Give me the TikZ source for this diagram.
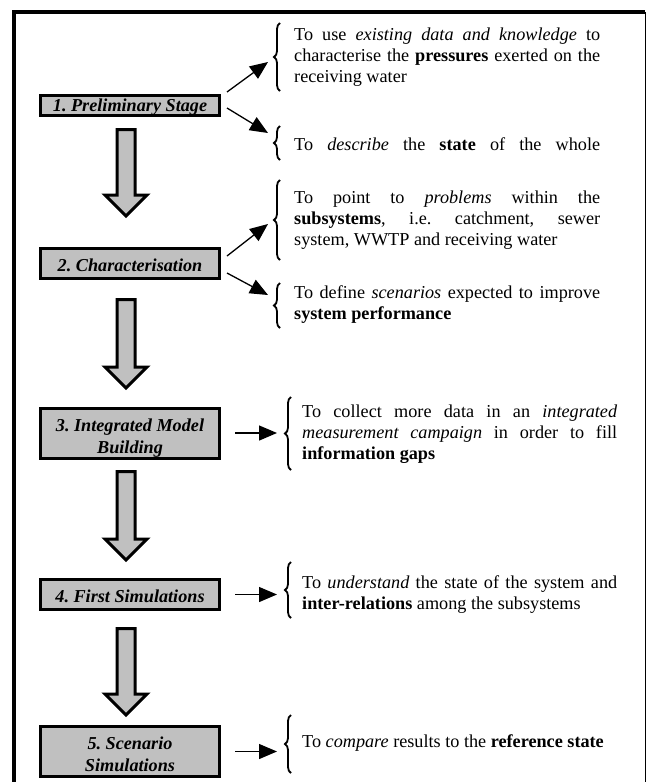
\documentclass[tikz,border=0pt]{standalone}
\usepackage{fontspec}
\setmainfont{Liberation Serif}
\usepackage{xcolor}
\usetikzlibrary{arrows.meta, positioning, decorations.pathreplacing}
\definecolor{stageGray}{RGB}{192,192,192}
\tikzstyle{stage} = [draw, line width=3pt, fill=stageGray, rectangle, minimum width=179pt, inner sep=0pt]
\tikzstyle{stagetext} = [inner sep=0pt, align=center, font=\fontsize{18.2pt}{22pt}\selectfont\bfseries\itshape]
\tikzstyle{goal} = [anchor=west, inner sep=0pt, align=justify, font=\fontsize{18.2pt}{21pt}\selectfont]
\tikzstyle{brace} = [decorate, decoration={brace, amplitude=6pt}, line width=1.8pt]
\tikzstyle{bigarrow} = [draw, line width=3pt, fill=stageGray, miter limit=10]
\tikzstyle{link} = [->, line width=1.3pt]
\tolerance=10000
\hyphenpenalty=10000
\frenchspacing

\begin{document}
\begin{tikzpicture}[x=1pt, y=-1pt, >={Triangle[length=18pt,width=15pt]}, node distance=158pt]
        \useasboundingbox (0,0) rectangle (653,782);
        % outer frame
        \draw [line width=3.5pt] (14,782) -- (14,12) -- (645,12);
        \draw [line width=1pt] (645,12) -- (645,782);

        % the five stages
        \node [stage, minimum height=20pt] (prelim) at (130,105.5) {};
        \node [stage, minimum height=30pt, below of=prelim] (charac) {};
        \node [stage, minimum height=50pt, below of=charac, node distance=169.5pt] (build) {};
        \node [stage, minimum height=30pt, below of=build, node distance=161.5pt] (firstSim) {};
        \node [stage, minimum height=50pt, below of=firstSim, node distance=157pt] (scenSim) {};

        % stage names, cut off by the lower edge of their box as in the original
        \foreach \name/\lbl/\ypos in {prelim/{1. Preliminary Stage}/107.25, charac/{2. Characterisation}/265.5, build/{3. Integrated Model\\Building}/438, firstSim/{4. First Simulations}/596.5, scenSim/{5. Scenario\\Simulations}/754}
        {
            \begin{scope}
                \clip (\name.south west) rectangle (\name.north east);
                \node [stagetext] (\name Text) at (130,\ypos) {\lbl};
            \end{scope}
        }

        % block arrows between the stages
        \foreach \ya/\yb in {129.5/216, 299.5/388, 471.5/560, 628.5/715}
            \draw [bigarrow] (117,\ya) -- (135,\ya) -- (135,\yb-21) -- (147,\yb-21) -- (126,\yb) -- (105,\yb-21) -- (117,\yb-21) -- cycle;

        % aims of each stage
        \node [goal, text width=306pt] (pressures) at (294,57) {To use \textit{existing data and knowledge} to\linebreak characterise the \textbf{pressures} exerted on the\linebreak receiving water};
        \node [goal, text width=306pt] (stateWhole) at (294,144) {\makebox[\linewidth][s]{To \textit{describe} the \textbf{state} of the whole}};
        \node [goal, text width=306pt] (problems) at (294,220) {To point to \textit{problems} within the\linebreak \textbf{subsystems}, i.e. catchment, sewer\linebreak system, WWTP and receiving water};
        \node [goal, text width=306pt] (scenarios) at (294,305) {To define \textit{scenarios} expected to improve\linebreak \textbf{system performance}};
        \node [goal, text width=315pt] (campaign) at (302,434) {To collect more data in an \textit{integrated}\linebreak \textit{measurement campaign} in order to fill\linebreak \textbf{information gaps}};
        \node [goal, text width=315pt] (interRel) at (302,595) {To \textit{understand} the state of the system and\linebreak \textbf{inter-relations} among the subsystems};
        \node [goal, text width=315pt] (compare) at (302,743) {To \textit{compare} results to the \textbf{reference state}};

        \foreach \x/\ya/\yb in {280/23/91, 280/126/160, 280/180/260, 280/283/328, 291/397/470, 291/562/618, 291/715/773}
            \draw [brace] (\x,\yb) -- (\x,\ya);

        \coordinate (tipPressures) at (268,62);
        \coordinate (tipState) at (268,133);
        \coordinate (tipProblems) at (268,224);
        \coordinate (tipScenarios) at (268,295);
        \coordinate (tipCampaign) at (277,433);
        \coordinate (tipInterRel) at (277,594.5);
        \coordinate (tipCompare) at (277,751.5);

        \draw [link] ([xshift=6pt, yshift=2pt]prelim.north east) -- (tipPressures);
        \draw [link] ([xshift=6pt, yshift=-2.5pt]prelim.east) -- (tipState);
        \draw [link] ([xshift=6pt, yshift=7.5pt]charac.east) -- (tipProblems);
        \draw [link] ([xshift=6pt, yshift=-9.5pt]charac.east) -- (tipScenarios);
        \draw [link] ([xshift=14pt]build.east) -- (tipCampaign);
        \draw [link] ([xshift=14pt]firstSim.east) -- (tipInterRel);
        \draw [link] ([xshift=14pt]scenSim.east) -- (tipCompare);
    \end{tikzpicture}
\end{document}
